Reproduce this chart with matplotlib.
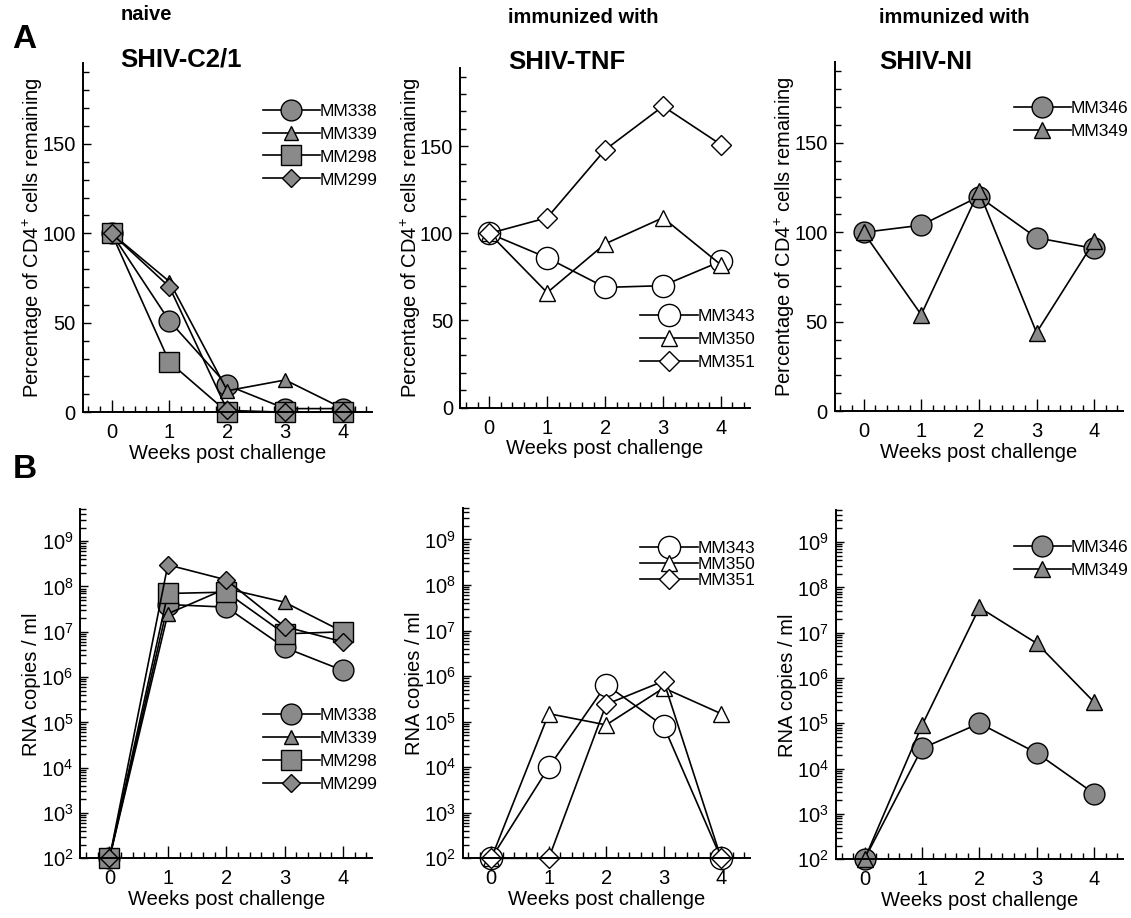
import matplotlib
matplotlib.use('Agg')
import matplotlib.pyplot as plt
from matplotlib.ticker import MultipleLocator, LogLocator, NullFormatter

plt.rcParams['font.family'] = ['Liberation Sans', 'DejaVu Sans']
plt.rcParams['mathtext.fontset'] = 'custom'
plt.rcParams['mathtext.rm'] = 'Liberation Sans'
plt.rcParams['mathtext.it'] = 'Liberation Sans:italic'
plt.rcParams['mathtext.bf'] = 'Liberation Sans:bold'

weeks = [0, 1, 2, 3, 4]

# CD4+ cells remaining (%)
cd4_naive = {
    'MM338': [100, 51, 15, 2, 2],
    'MM339': [100, 73, 12, 18, 2],
    'MM298': [100, 28, 0, 0, 0],
    'MM299': [100, 70, 1, 0, 0],
}
cd4_tnf = {
    'MM343': [100, 86, 69, 70, 84],
    'MM350': [100, 66, 94, 109, 82],
    'MM351': [100, 109, 148, 173, 151],
}
cd4_ni = {
    'MM346': [100, 104, 120, 97, 91],
    'MM349': [100, 54, 123, 44, 95],
}

# plasma RNA copies / ml
rna_naive = {
    'MM338': [1e2, 4e7, 3.5e7, 4.5e6, 1.4e6],
    'MM339': [1e2, 2.5e7, 9e7, 4.5e7, 1e7],
    'MM298': [1e2, 7e7, 7.5e7, 9e6, 1e7],
    'MM299': [1e2, 3e8, 1.4e8, 1.3e7, 6e6],
}
rna_tnf = {
    'MM343': [1e2, 1e4, 6.5e5, 8e4, 1e2],
    'MM350': [1e2, 1.5e5, 8.5e4, 5.5e5, 1.5e5],
    'MM351': [1e2, 1e2, 2.4e5, 7.8e5, 1e2],
}
rna_ni = {
    'MM346': [1e2, 2.8e4, 1e5, 2.2e4, 2.8e3],
    'MM349': [1e2, 9e4, 3.6e7, 5.8e6, 2.9e5],
}

GRAY = '#8a8a8a'
marker_of = {
    'MM338': ('o', 15, GRAY), 'MM339': ('^', 10, GRAY),
    'MM298': ('s', 14, GRAY), 'MM299': ('D', 9, GRAY),
    'MM343': ('o', 16, 'white'), 'MM350': ('^', 11, 'white'),
    'MM351': ('D', 10, 'white'),
    'MM346': ('o', 15, GRAY), 'MM349': ('^', 11, GRAY),
}

FS = 14.5


def draw(ax, series, log=False, leg_anchor=(1.02, 0.9), leg_spacing=0.45):
    for name, vals in series.items():
        m, ms, fc = marker_of[name]
        ax.plot(weeks, vals, color='black', lw=1.2, marker=m, ms=ms,
                mfc=fc, mec='black', mew=1.0, label=name, clip_on=False)
    ax.set_xlim(-0.5, 4.5)
    ax.xaxis.set_major_locator(MultipleLocator(1))
    ax.xaxis.set_minor_locator(MultipleLocator(0.2))
    if log:
        ax.set_yscale('log')
        ax.set_ylim(1e2, 5e9)
        ax.yaxis.set_major_locator(LogLocator(base=10, numticks=12))
        ax.yaxis.set_minor_locator(LogLocator(base=10, subs=range(2, 10), numticks=12))
        ax.yaxis.set_minor_formatter(NullFormatter())
        ax.set_ylabel('RNA copies / ml', fontsize=FS, labelpad=0)
    else:
        ax.set_ylim(0, 195)
        ax.yaxis.set_major_locator(MultipleLocator(50))
        ax.yaxis.set_minor_locator(MultipleLocator(10))
        ax.set_ylabel('Percentage of CD4$^{+}$ cells remaining', fontsize=FS,
                      labelpad=-2)
    ax.set_xlabel('Weeks post challenge', fontsize=FS, labelpad=1)
    ax.spines['top'].set_visible(False)
    ax.spines['right'].set_visible(False)
    ax.spines['left'].set_linewidth(1.4)
    ax.spines['bottom'].set_linewidth(1.4)
    ax.tick_params(which='both', direction='in', labelsize=FS, width=1.0)
    ax.tick_params(axis='x', which='major', length=9, pad=8)
    ax.tick_params(axis='x', which='minor', length=4)
    ax.tick_params(axis='y', which='major', length=6, pad=5)
    ax.tick_params(axis='y', which='minor', length=4)
    ax.legend(loc='upper right', bbox_to_anchor=leg_anchor, frameon=False,
              fontsize=12.5, handlelength=3.3, handletextpad=0.0,
              labelspacing=leg_spacing, borderpad=0, borderaxespad=0)


fig = plt.figure(figsize=(11.31, 9.18), dpi=100)

axA1 = fig.add_axes([0.073, 0.551, 0.256, 0.380])
axA2 = fig.add_axes([0.407, 0.556, 0.256, 0.370])
axA3 = fig.add_axes([0.738, 0.552, 0.255, 0.380])
axB1 = fig.add_axes([0.071, 0.065, 0.258, 0.380])
axB2 = fig.add_axes([0.409, 0.065, 0.254, 0.382])
axB3 = fig.add_axes([0.739, 0.064, 0.254, 0.380])

draw(axA1, cd4_naive, leg_anchor=(1.02, 0.885))
draw(axA2, cd4_tnf, leg_anchor=(1.02, 0.29))
draw(axA3, cd4_ni, leg_anchor=(1.02, 0.89))
draw(axB1, rna_naive, log=True, leg_anchor=(1.02, 0.43))
draw(axB2, rna_tnf, log=True, leg_anchor=(1.02, 0.905), leg_spacing=0.05)
draw(axB3, rna_ni, log=True, leg_anchor=(1.02, 0.915))

# panel letters and group headings
fig.text(0.011, 0.957, 'A', fontsize=24, fontweight='bold', va='center')
fig.text(0.011, 0.489, 'B', fontsize=24, fontweight='bold', va='center')
fig.text(0.107, 0.984, 'naive', fontsize=14.5, fontweight='bold', va='center')
fig.text(0.106, 0.935, 'SHIV-C2/1', fontsize=18.5, fontweight='bold', va='center')
fig.text(0.449, 0.981, 'immunized with', fontsize=14.5, fontweight='bold', va='center')
fig.text(0.449, 0.933, 'SHIV-TNF', fontsize=18.5, fontweight='bold', va='center')
fig.text(0.777, 0.981, 'immunized with', fontsize=14.5, fontweight='bold', va='center')
fig.text(0.777, 0.933, 'SHIV-NI', fontsize=18.5, fontweight='bold', va='center')

fig.savefig('out.png', dpi=100)
